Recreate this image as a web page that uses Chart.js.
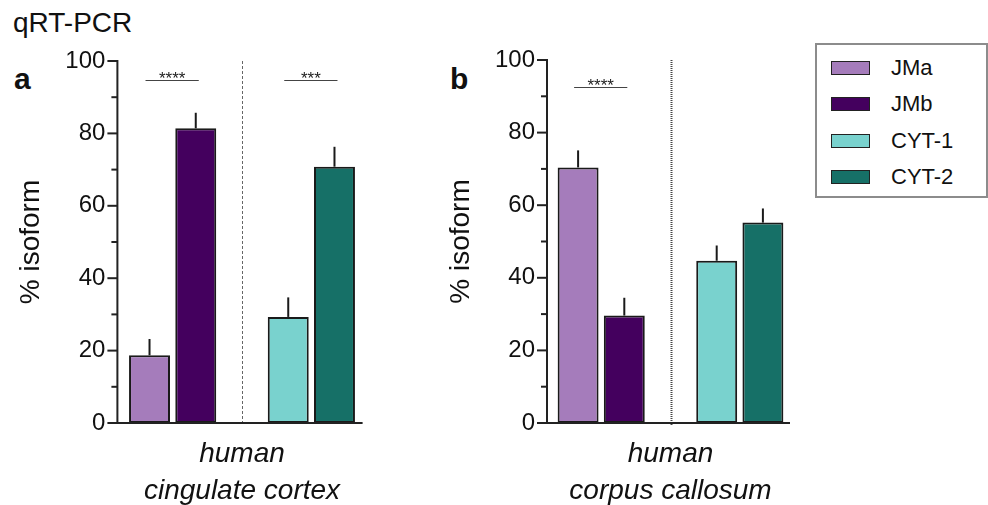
<!DOCTYPE html>
<html>
<head>
<meta charset="utf-8">
<script src="https://cdn.jsdelivr.net/npm/chart.js@4.4.1/dist/chart.umd.min.js"></script>
<style>
  body { margin: 0; width: 988px; height: 505px; overflow: hidden; background: #fff; position: relative;
         font-family: "Liberation Sans", Arial, sans-serif; color: #111; }
  canvas { position: absolute; top: 0; }
  #title { position: absolute; left: 13px; top: 9px; font-size: 28px; line-height: 28px; }
  .tag { position: absolute; font-weight: bold; font-size: 30px; line-height: 30px; top: 64px; }
  #legend { position: absolute; left: 815px; top: 43px; width: 169px; height: 151px; border: 2px solid #8c8c8c; }
  #legend .row { position: absolute; left: 14px; height: 24px; display: flex; align-items: center; font-size: 22px; }
  #legend .sw { width: 37px; height: 12px; border: 1.5px solid #222; margin-right: 21px; }
</style>
</head>
<body>
<div id="title">qRT-PCR</div>
<div class="tag" style="left:14px">a</div>
<div class="tag" style="left:450px">b</div>
<canvas id="cortex" width="400" height="520" style="left:0px"></canvas>
<canvas id="callosum" width="390" height="520" style="left:420px"></canvas>
<div id="legend"></div>
<script>
// values (% isoform, mean and SEM)
const isoforms = ["JMa", "JMb", "CYT-1", "CYT-2"];
const isoColors = ["#a57cbb", "#44005e", "#79d2ce", "#167067"];
const slots = ["JMa", "JMb", "", "CYT-1", "CYT-2"];
const cortexMean = [18.7, 81.4, 29.3, 70.8];
const cortexSem = [4.5, 4.3, 5.4, 5.5];
const callosumMean = [70.4, 29.6, 44.7, 55.2];
const callosumSem = [4.7, 4.9, 4.2, 3.9];
const cortexSig = [
  { from: "JMa", to: "JMb", y: 94.7, text: "****" },
  { from: "CYT-1", to: "CYT-2", y: 94.7, text: "***" }
];
const callosumSig = [{ from: "JMa", to: "JMb", y: 92.5, text: "****" }];
const yMin = 0, yMax = 100, yStep = 10, yLabelStep = 20;

const font = "'Liberation Sans', Arial, sans-serif";

const panelPlugin = {
  id: "panel",
  afterDatasetsDraw(chart, args, opts) {
    const { ctx, chartArea, scales: { x, y } } = chart;
    const ax = chartArea.left - opts.axisInset;
    const y0 = y.getPixelForValue(yMin);
    const yTop = y.getPixelForValue(yMax);
    ctx.save();

    // error bars (upper only)
    ctx.strokeStyle = "#1a1a1a";
    ctx.lineWidth = 2;
    chart.data.datasets.forEach((ds, di) => {
      chart.getDatasetMeta(di).data.forEach((bar, i) => {
        const v = ds.data[i];
        if (v == null) return;
        ctx.beginPath();
        ctx.moveTo(bar.x, bar.y);
        ctx.lineTo(bar.x, y.getPixelForValue(v + ds.sem));
        ctx.stroke();
      });
    });

    // divider between JM and CYT groups
    const dx = Math.round(x.getPixelForTick(slots.indexOf(""))) + 0.5;
    ctx.strokeStyle = opts.dividerColor;
    ctx.lineWidth = opts.dividerWidth;
    ctx.setLineDash(opts.dividerDash);
    ctx.beginPath();
    ctx.moveTo(dx, yTop);
    ctx.lineTo(dx, y0 + 3);
    ctx.stroke();
    ctx.setLineDash([]);

    // axes
    ctx.strokeStyle = "#222";
    ctx.lineWidth = 2;
    ctx.beginPath();
    ctx.moveTo(ax, yTop - 1);
    ctx.lineTo(ax, y0);
    ctx.lineTo(chartArea.right + opts.axisOver, y0);
    ctx.stroke();
    y.ticks.forEach(t => {
      const py = y.getPixelForValue(t.value);
      const len = t.value % yLabelStep === 0 ? 10 : 6;
      ctx.beginPath();
      ctx.moveTo(ax - len, py);
      ctx.lineTo(ax, py);
      ctx.stroke();
    });

    // significance markers
    opts.sig.forEach(s => {
      const x1 = x.getPixelForTick(slots.indexOf(s.from)) - 4;
      const x2 = x.getPixelForTick(slots.indexOf(s.to)) + 3;
      const py = Math.round(y.getPixelForValue(s.y)) + 0.5;
      ctx.strokeStyle = "#444";
      ctx.lineWidth = 1.2;
      ctx.beginPath();
      ctx.moveTo(x1, py);
      ctx.lineTo(x2, py);
      ctx.stroke();
      ctx.fillStyle = "#222";
      ctx.font = "17px " + font;
      ctx.textAlign = "center";
      ctx.textBaseline = "alphabetic";
      ctx.fillText(s.text, (x1 + x2) / 2, py + 3);
    });
    ctx.restore();
  }
};

function makePanel(id, mean, sem, sig, region, p) {
  const datasets = isoforms.map((name, i) => ({
    label: name,
    data: slots.map(s => (s === name ? mean[i] : null)),
    sem: sem[i],
    backgroundColor: isoColors[i],
    borderColor: "#1a1a1a",
    borderWidth: 2,
    borderSkipped: false,
    skipNull: true,
    categoryPercentage: 1,
    barPercentage: 0.886
  }));
  return new Chart(document.getElementById(id), {
    type: "bar",
    data: { labels: slots, datasets },
    plugins: [panelPlugin],
    options: {
      responsive: false,
      animation: false,
      layout: { padding: { left: 0, right: p.padRight, top: p.top, bottom: 0 } },
      plugins: {
        legend: { display: false },
        tooltip: { enabled: false },
        panel: {
          axisInset: p.axisInset, axisOver: p.axisOver, sig,
          dividerDash: p.dividerDash, dividerColor: p.dividerColor, dividerWidth: p.dividerWidth
        }
      },
      scales: {
        x: {
          grid: { display: false, drawTicks: false },
          border: { display: false },
          ticks: { display: false },
          title: {
            display: true,
            text: region,
            color: "#111",
            font: { family: font, size: 28, style: "italic", lineHeight: 1.32 },
            padding: { top: 0, bottom: 10 }
          },
          afterFit: s => { s.height = 97; }
        },
        y: {
          min: yMin,
          max: yMax,
          grid: { display: false, drawTicks: false },
          border: { display: false },
          ticks: {
            stepSize: yStep,
            autoSkip: false,
            padding: p.labelPad,
            color: "#111",
            font: { family: font, size: 24 },
            callback: v => (v % yLabelStep === 0 ? v : "")
          },
          title: {
            display: true,
            text: "% isoform",
            color: "#111",
            font: { family: font, size: 28 },
            padding: { top: p.titlePad, bottom: 0 }
          },
          afterFit: s => { s.width = p.plotLeft; }
        }
      }
    }
  });
}

makePanel("cortex", cortexMean, cortexSem, cortexSig, ["human", "cingulate cortex"], {
  plotLeft: 126.4, padRight: 42.4, top: 61, axisInset: 9, axisOver: 5, labelPad: 21, titlePad: 14,
  dividerDash: [3, 2], dividerColor: "#666", dividerWidth: 1
});
makePanel("callosum", callosumMean, callosumSem, callosumSig, ["human", "corpus callosum"], {
  plotLeft: 135, padRight: 24, top: 60, axisInset: 8, axisOver: 4, labelPad: 20, titlePad: 24,
  dividerDash: [1, 1], dividerColor: "#444", dividerWidth: 2
});

// legend box
const legend = document.getElementById("legend");
isoforms.forEach((name, i) => {
  const row = document.createElement("div");
  row.className = "row";
  row.style.top = (11 + i * 36.3) + "px";
  const sw = document.createElement("div");
  sw.className = "sw";
  sw.style.background = isoColors[i];
  row.appendChild(sw);
  row.appendChild(document.createTextNode(name));
  legend.appendChild(row);
});
</script>
</body>
</html>
